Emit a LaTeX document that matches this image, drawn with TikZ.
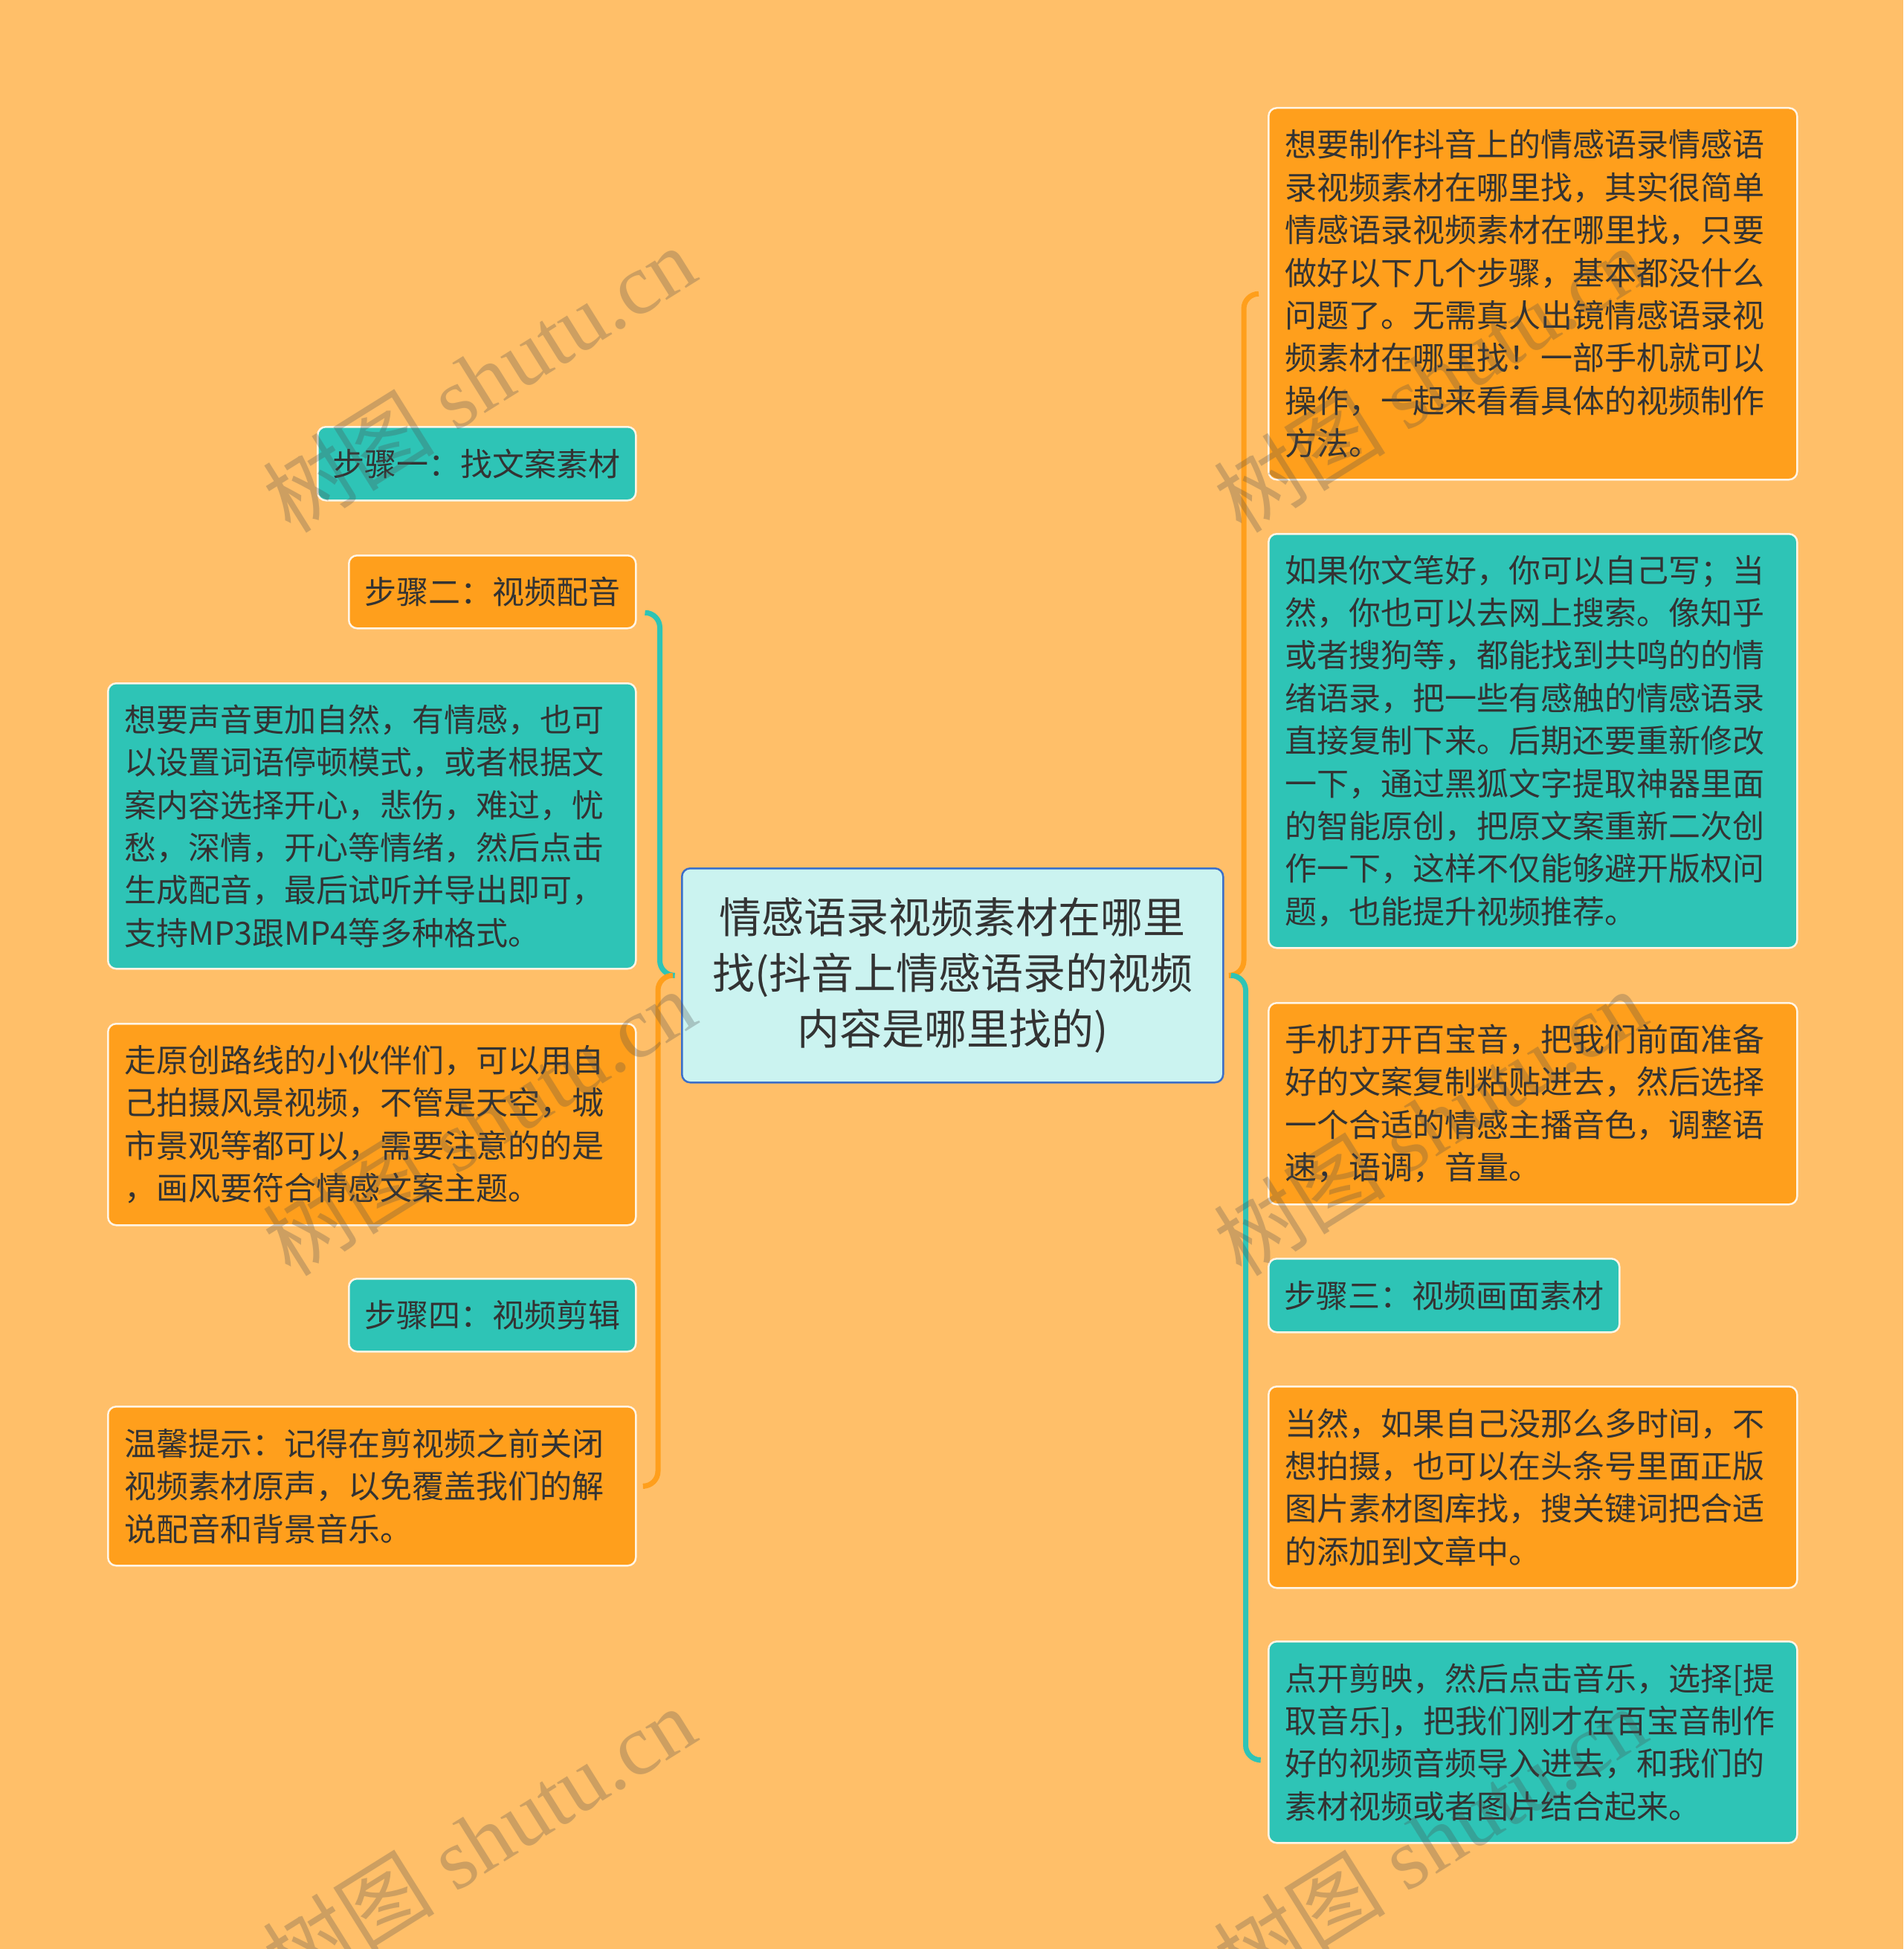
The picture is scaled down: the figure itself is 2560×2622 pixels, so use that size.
\documentclass[tikz,border=0pt]{standalone}
\usepackage{fontspec}
\newfontfamily\cjk{Noto Sans CJK SC}
\newfontfamily\wmserif{Liberation Serif}
\usetikzlibrary{calc}
\definecolor{bgc}{HTML}{FFBF69}
\definecolor{orgc}{HTML}{FF9F1C}
\definecolor{tealc}{HTML}{2EC4B6}
\definecolor{lightc}{HTML}{CBF3F0}
\definecolor{bluec}{HTML}{3B6FC9}
\definecolor{txtc}{HTML}{333333}
\definecolor{edgec}{HTML}{FFF5E6}
\definecolor{wmc}{HTML}{4D4D4D}
\begin{document}
\begin{tikzpicture}[x=1pt,y=-1pt,
  box/.style={draw=edgec, line width=2.5pt, rounded corners=11pt, anchor=north west,
    inner ysep=0pt, text=txtc, font={\cjk\fontsize{43}{57.4}\selectfont}},
  obox/.style={box, fill=orgc},
  tbox/.style={box, fill=tealc},
  wide/.style={text width=666pt, inner xsep=22pt, align=left},
  wider/.style={text width=667pt, inner xsep=22pt, align=left},
  stepbox/.style={inner xsep=0pt, align=center},
  centerbox/.style={draw=bluec, fill=lightc, line width=2.5pt, rounded corners=11pt,
    anchor=north west, inner sep=0pt, align=center, text=txtc,
    font={\cjk\fontsize{57}{75}\selectfont}, minimum width=728pt, minimum height=288pt},
  link/.style={line width=7pt, rounded corners=20pt},
  tealline/.style={link, draw=tealc},
  orgline/.style={link, draw=orgc},
  wm/.style={rotate=32, text=wmc, opacity=0.28, font={\wmserif\fontsize{116}{116}\selectfont}}
]
\fill[bgc] (0,0) rectangle (2560,2622);
\useasboundingbox (0,0) rectangle (2560,2622);

% centre
\node[centerbox] (cen) at (916,1167) {情感语录视频素材在哪里\\找(抖音上情感语录的视频\\内容是哪里找的)};

% left side
\node[tbox, stepbox, minimum width=428pt, minimum height=99pt] (s1) at (426,573) {步骤一：找文案素材};
\node[obox, stepbox, minimum width=386pt, minimum height=98pt] (s2) at (468,746) {步骤二：视频配音};
\node[tbox, wide, minimum height=384pt] (l3) at (144,918) {想要声音更加自然，有情感，也可\\以设置词语停顿模式，或者根据文\\案内容选择开心，悲伤，难过，忧\\愁，深情，开心等情绪，然后点击\\生成配音，最后试听并导出即可，\\支持MP3跟MP4等多种格式。};
\node[obox, wide, minimum height=271pt] (l4) at (144,1376) {走原创路线的小伙伴们，可以用自\\己拍摄风景视频，不管是天空，城\\市景观等都可以，需要注意的的是\\，画风要符合情感文案主题。};
\node[tbox, stepbox, minimum width=386pt, minimum height=98pt] (s4) at (468,1719) {步骤四：视频剪辑};
\node[obox, wide, minimum height=214pt] (l6) at (144,1891) {温馨提示：记得在剪视频之前关闭\\视频素材原声，以免覆盖我们的解\\说配音和背景音乐。};

% right side
\node[obox, wider, minimum height=500pt] (r1) at (1705,144) {想要制作抖音上的情感语录情感语\\录视频素材在哪里找，其实很简单\\情感语录视频素材在哪里找，只要\\做好以下几个步骤，基本都没什么\\问题了。无需真人出镜情感语录视\\频素材在哪里找！一部手机就可以\\操作，一起来看看具体的视频制作\\方法。};
\node[tbox, wider, minimum height=557pt] (r2) at (1705,717) {如果你文笔好，你可以自己写；当\\然，你也可以去网上搜索。像知乎\\或者搜狗等，都能找到共鸣的的情\\绪语录，把一些有感触的情感语录\\直接复制下来。后期还要重新修改\\一下，通过黑狐文字提取神器里面\\的智能原创，把原文案重新二次创\\作一下，这样不仅能够避开版权问\\题，也能提升视频推荐。};
\node[obox, wider, minimum height=271pt] (r3) at (1705,1348) {手机打开百宝音，把我们前面准备\\好的文案复制粘贴进去，然后选择\\一个合适的情感主播音色，调整语\\速，语调，音量。};
\node[tbox, stepbox, minimum width=472pt, minimum height=99pt] (r4) at (1705,1692) {步骤三：视频画面素材};
\node[obox, wider, minimum height=271pt] (r5) at (1705,1864) {当然，如果自己没那么多时间，不\\想拍摄，也可以在头条号里面正版\\图片素材图库找，搜关键词把合适\\的添加到文章中。};
\node[tbox, wider, minimum height=271pt] (r6) at (1705,2207) {点开剪映，然后点击音乐，选择[提\\取音乐]，把我们刚才在百宝音制作\\好的视频音频导入进去，和我们的\\素材视频或者图片结合起来。};

% connector end points
\coordinate (lj) at ($(cen.west)+(-11,0)$);
\coordinate (rj) at ($(cen.east)+(9,0)$);
\coordinate (lt) at ($(s2.east)+(11,28)$);
\coordinate (lb) at ($(l6.east)+(11,0)$);
\coordinate (rt) at ($(r1.west)+(-12,0)$);
\coordinate (rb) at ($(r6.west)+(-12,24)$);

\draw[tealline] (lt) -- ++(20,0) |- (lj);
\draw[orgline] (lj) -- ++(-20,0) |- (lb);
\draw[orgline] (rt) -- ++(-20,0) |- (rj);
\draw[tealline] (rj) -- ++(20,0) |- (rb);

% watermarks
\node[wm] (w1) at (644,510) {{\cjk 树图} shutu.cn};
\node[wm] (w2) at (644,1510) {{\cjk 树图} shutu.cn};
\node[wm] (w3) at (644,2475) {{\cjk 树图} shutu.cn};
\node[wm] (w4) at (1923,510) {{\cjk 树图} shutu.cn};
\node[wm] (w5) at (1923,1510) {{\cjk 树图} shutu.cn};
\node[wm] (w6) at (1923,2475) {{\cjk 树图} shutu.cn};
\end{tikzpicture}
\end{document}
